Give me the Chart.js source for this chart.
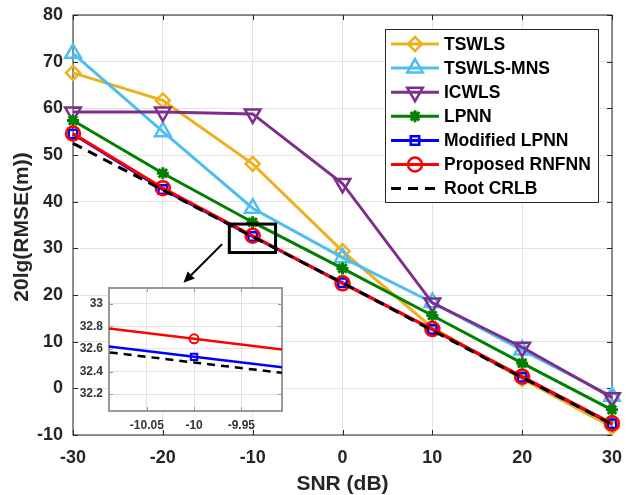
<!DOCTYPE html>
<html>
<head>
<meta charset="utf-8">
<script src="https://cdn.jsdelivr.net/npm/chart.js@4.4.1/dist/chart.umd.min.js"></script>
<style>
  body { margin: 0; background: #fff; }
  #wrap { position: relative; width: 626px; height: 495px; }
  #mainChart { position: absolute; left: 0; top: 0; }
  #insetChart { position: absolute; left: 55px; top: 280px; }
</style>
</head>
<body>
<div id="wrap">
  <canvas id="mainChart" width="626" height="495"></canvas>
  <canvas id="insetChart" width="240" height="160"></canvas>
</div>
<script>
// data
const snr = [-30, -20, -10, 0, 10, 20, 30];
const tswls = [67.6, 61.7, 48.1, 29.4, 13.0, 2.0, -8.3];
const tswlsMns = [71.8, 55.0, 38.6, 28.0, 18.4, 8.2, -1.7];
const icwls = [59.2, 59.2, 58.8, 43.9, 18.3, 8.8, -2.0];
const lpnn = [57.4, 46.1, 35.6, 25.7, 15.6, 5.4, -4.6];
const modLpnn = [54.5, 42.6, 32.53, 22.6, 12.6, 2.4, -7.6];
const rnfnn = [54.6, 42.9, 32.69, 22.5, 12.7, 2.5, -7.5];
const crlb = [52.5, 42.5, 32.48, 22.6, 12.4, 2.3, -7.7];

const xTicks = [-30, -20, -10, 0, 10, 20, 30];
const yTicks = [-10, 0, 10, 20, 30, 40, 50, 60, 70, 80];
const insetXTicks = [-10.05, -10, -9.95];
const insetYTicks = [32.2, 32.4, 32.6, 32.8, 33];

const FONT = '"Liberation Sans", Arial, sans-serif';
const TXT = '#262626';
const GRID = '#e3e3e3';

function pts(arr) {
    return snr.map((x, i) => ({ x: x, y: arr[i] }));
}

function series(label, arr, color, style, radius, extra) {
    return Object.assign({
        label: label,
        data: pts(arr),
        borderColor: color,
        backgroundColor: color,
        borderWidth: 3,
        pointStyle: style,
        pointRadius: radius,
        pointBorderWidth: 2.5,
        pointBorderColor: color,
        pointBackgroundColor: 'rgba(0,0,0,0)',
        tension: 0,
        clip: false
    }, extra || {});
}

const datasets = [
    series('TSWLS', tswls, '#EDB120', 'rectRot', 7, { order: 6 }),
    series('TSWLS-MNS', tswlsMns, '#4DBEEE', 'triangle', 9, { order: 5 }),
    series('ICWLS', icwls, '#7E2F8E', 'triangle', 9, { order: 4, pointRotation: 180 }),
    series('LPNN', lpnn, '#008000', 'star', 6, { order: 3, pointBorderWidth: 3 }),
    series('Modified LPNN', modLpnn, '#0000FF', 'rect', 6, { order: 2 }),
    series('Proposed RNFNN', rnfnn, '#FF0000', 'circle', 7, { order: 1 }),
    series('Root CRLB', crlb, '#000000', false, 0, { order: 0, borderDash: [10, 7] })
];

// zoom box and arrow, in data units
const zoomBox = { x0: -12.6, x1: -7.45, y0: 29.1, y1: 35.2 };
const arrow = { x0: -13.4, y0: 30.9, x1: -17.7, y1: 22.6 };

// axes box with inward ticks, like matlab
function framePlugin(color, width, tickLen, xt, yt) {
    return {
        id: 'frame',
        beforeDatasetsDraw(chart) {
            const a = chart.chartArea, ctx = chart.ctx;
            const sx = chart.scales.x, sy = chart.scales.y;
            ctx.save();
            ctx.strokeStyle = color;
            ctx.lineWidth = width;
            ctx.strokeRect(a.left, a.top, a.right - a.left, a.bottom - a.top);
            ctx.lineWidth = 1;
            ctx.beginPath();
            xt.forEach(v => {
                const px = Math.round(sx.getPixelForValue(v)) + 0.5;
                ctx.moveTo(px, a.bottom); ctx.lineTo(px, a.bottom - tickLen);
                ctx.moveTo(px, a.top); ctx.lineTo(px, a.top + tickLen);
            });
            yt.forEach(v => {
                const py = Math.round(sy.getPixelForValue(v)) + 0.5;
                ctx.moveTo(a.left, py); ctx.lineTo(a.left + tickLen, py);
                ctx.moveTo(a.right, py); ctx.lineTo(a.right - tickLen, py);
            });
            ctx.stroke();
            ctx.restore();
        }
    };
}

const titlesPlugin = {
    id: 'titles',
    afterDraw(chart) {
        const ctx = chart.ctx, a = chart.chartArea;
        ctx.save();
        ctx.fillStyle = TXT;
        ctx.font = 'bold 21px ' + FONT;
        ctx.textAlign = 'center';
        ctx.textBaseline = 'middle';
        ctx.fillText('SNR (dB)', (a.left + a.right) / 2, 484);
        ctx.translate(22, (a.top + a.bottom) / 2 + 2);
        ctx.rotate(-Math.PI / 2);
        ctx.fillText('20lg(RMSE(m))', 0, 0);
        ctx.restore();
    }
};

const annotPlugin = {
    id: 'annot',
    afterDatasetsDraw(chart) {
        const ctx = chart.ctx, sx = chart.scales.x, sy = chart.scales.y;
        ctx.save();
        ctx.strokeStyle = '#000';
        ctx.lineWidth = 3;
        const l = sx.getPixelForValue(zoomBox.x0), r = sx.getPixelForValue(zoomBox.x1);
        const t = sy.getPixelForValue(zoomBox.y1), b = sy.getPixelForValue(zoomBox.y0);
        ctx.strokeRect(l, t, r - l, b - t);
        const x0 = sx.getPixelForValue(arrow.x0), y0 = sy.getPixelForValue(arrow.y0);
        const x1 = sx.getPixelForValue(arrow.x1), y1 = sy.getPixelForValue(arrow.y1);
        const ang = Math.atan2(y1 - y0, x1 - x0);
        const hl = 11, hw = 5;
        const bx = x1 - hl * Math.cos(ang), by = y1 - hl * Math.sin(ang);
        ctx.lineWidth = 2;
        ctx.beginPath();
        ctx.moveTo(x0, y0);
        ctx.lineTo(bx, by);
        ctx.stroke();
        ctx.fillStyle = '#000';
        ctx.beginPath();
        ctx.moveTo(x1, y1);
        ctx.lineTo(bx + hw * Math.sin(ang), by - hw * Math.cos(ang));
        ctx.lineTo(bx - hw * Math.sin(ang), by + hw * Math.cos(ang));
        ctx.closePath();
        ctx.fill();
        ctx.restore();
    }
};

const legendPlugin = {
    id: 'boxLegend',
    afterDraw(chart) {
        const ctx = chart.ctx;
        const bx = 385.5, by = 29.5, bw = 213, bh = 173;
        ctx.save();
        ctx.fillStyle = '#fff';
        ctx.fillRect(bx, by, bw, bh);
        ctx.strokeStyle = TXT;
        ctx.lineWidth = 1;
        ctx.strokeRect(bx, by, bw, bh);
        chart.data.datasets.forEach((ds, i) => {
            const y = 44 + i * 24.1;
            ctx.strokeStyle = ds.borderColor;
            ctx.lineWidth = ds.borderWidth;
            ctx.setLineDash(ds.borderDash || []);
            ctx.beginPath();
            ctx.moveTo(391, y);
            ctx.lineTo(439, y);
            ctx.stroke();
            ctx.setLineDash([]);
            if (ds.pointStyle) {
                ctx.fillStyle = 'rgba(0,0,0,0)';
                ctx.lineWidth = ds.pointBorderWidth;
                Chart.helpers.drawPoint(ctx, {
                    pointStyle: ds.pointStyle,
                    rotation: ds.pointRotation || 0,
                    radius: ds.pointRadius,
                    borderWidth: ds.pointBorderWidth
                }, 415, y);
            }
            ctx.fillStyle = '#000';
            ctx.font = 'bold 17.5px ' + FONT;
            ctx.textAlign = 'left';
            ctx.textBaseline = 'middle';
            ctx.fillText(ds.label, 444, y + 1);
        });
        ctx.restore();
    }
};

const fixedTicks = arr => scale => { scale.ticks = arr.map(v => ({ value: v })); };
const fmt = v => String(Math.round(v * 100) / 100);
// fixed axis sizes, and no extra room for the end labels
const fitX = h => s => { s.height = h; s.paddingLeft = 0; s.paddingRight = 0; };
const fitY = w => s => { s.width = w; s.paddingTop = 0; s.paddingBottom = 0; };

new Chart(document.getElementById('mainChart'), {
    type: 'line',
    data: { datasets: datasets },
    options: {
        responsive: false,
        animation: false,
        layout: { autoPadding: false, padding: { left: 0, top: 15, right: 14, bottom: 20 } },
        plugins: { legend: { display: false }, tooltip: { enabled: false } },
        scales: {
            x: {
                type: 'linear', min: -30, max: 30,
                afterBuildTicks: fixedTicks(xTicks),
                afterFit: fitX(40),
                grid: { color: GRID, drawTicks: false },
                border: { display: false },
                ticks: { callback: fmt, color: TXT, padding: 12, maxRotation: 0, font: { family: FONT, size: 18, weight: 'bold' } }
            },
            y: {
                type: 'linear', min: -10, max: 80,
                afterBuildTicks: fixedTicks(yTicks),
                afterFit: fitY(73),
                grid: { color: GRID, drawTicks: false },
                border: { display: false },
                ticks: { callback: fmt, color: TXT, padding: 10, font: { family: FONT, size: 18, weight: 'bold' } }
            }
        }
    },
    plugins: [framePlugin(TXT, 1, 5, xTicks, yTicks), annotPlugin, titlesPlugin, legendPlugin]
});

// inset: same three curves, zoomed round snr = -10
const insetSets = [
    series('Modified LPNN', modLpnn, '#0000FF', 'rect', 4.5, { order: 2, borderWidth: 2.5, pointBorderWidth: 2, clip: 0 }),
    series('Proposed RNFNN', rnfnn, '#FF0000', 'circle', 4.5, { order: 1, borderWidth: 2.5, pointBorderWidth: 2, clip: 0 }),
    series('Root CRLB', crlb, '#000000', false, 0, { order: 0, borderWidth: 2.5, borderDash: [8, 6], clip: 0 })
];

const insetBg = {
    id: 'insetBg',
    beforeDraw(chart) {
        const a = chart.chartArea, ctx = chart.ctx;
        ctx.save();
        ctx.fillStyle = '#fff';
        ctx.fillRect(a.left, a.top, a.right - a.left, a.bottom - a.top);
        ctx.restore();
    }
};

new Chart(document.getElementById('insetChart'), {
    type: 'line',
    data: { datasets: insetSets },
    options: {
        responsive: false,
        animation: false,
        layout: { autoPadding: false, padding: { left: 0, top: 8, right: 13, bottom: 0 } },
        plugins: { legend: { display: false }, tooltip: { enabled: false } },
        scales: {
            x: {
                type: 'linear', min: -10.09, max: -9.907,
                afterBuildTicks: fixedTicks(insetXTicks),
                afterFit: fitX(29),
                grid: { color: GRID, drawTicks: false },
                border: { display: false },
                ticks: { callback: fmt, color: '#333', padding: 7, maxRotation: 0, font: { family: FONT, size: 12, weight: 'bold' } }
            },
            y: {
                type: 'linear', min: 32.05, max: 33.14,
                afterBuildTicks: fixedTicks(insetYTicks),
                afterFit: fitY(54),
                grid: { color: GRID, drawTicks: false },
                border: { display: false },
                ticks: { callback: fmt, color: '#333', padding: 6, font: { family: FONT, size: 12, weight: 'bold' } }
            }
        }
    },
    plugins: [insetBg, framePlugin('#999', 2, 4, insetXTicks, insetYTicks)]
});
</script>
</body>
</html>
